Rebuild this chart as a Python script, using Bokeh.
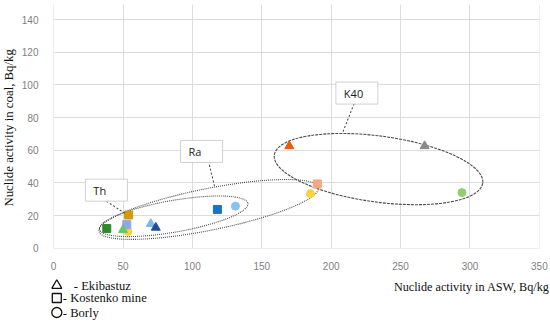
import math
from bokeh.plotting import figure
from bokeh.layouts import column, row
from bokeh.models import Range1d, SingleIntervalTicker
from bokeh.core.properties import value
from bokeh.embed import file_html
from bokeh.resources import INLINE

# ---- data ----
# Ekibastuz (triangles)
eki_x = [50.0, 70.0, 73.6, 169.8, 267.3]
eki_y = [11.3, 15.0, 12.7, 62.6, 62.6]
eki_c = ["#6cc46a", "#7db7e8", "#1d4f9e", "#ec5a0c", "#8a8a8a"]
# Kostenko mine (squares)
kos_x = [38.3, 52.7, 54.0, 118.0, 190.0]
kos_y = [12.1, 14.5, 20.4, 23.8, 39.4]
kos_c = ["#2f8a2a", "#8ea8e2", "#d69a08", "#1a72c2", "#f6a780"]
# Borly (circles)
bor_x = [53.5, 131.0, 185.0, 294.2]
bor_y = [10.3, 25.8, 33.5, 34.1]
bor_c = ["#ffd43a", "#86c3ee", "#ffd43a", "#8fd06f"]

# grouping ellipses
ell_name = ["Th", "Ra", "K40"]
ell_cx = [86.5, 111.7, 234.1]
ell_cy = [19.6, 23.8, 48.5]
ell_w = [108.6, 161.1, 151.5]
ell_h = [19.4, 25.5, 40.4]
ell_angle_deg = [9.9, 11.3, -7.7]
ell_dash = ["1 1", "1 1", "3 1"]

# callout boxes and leaders
box_x = [38.0, 106.6, 218.5]
box_y = [35.6, 59.3, 95.0]
lead_x0 = [38.1, 112.2, 216.5]
lead_y0 = [28.8, 51.1, 88.5]
lead_x1 = [52.5, 116.2, 208.0]
lead_y1 = [20.8, 37.0, 70.3]

x_title = "Nuclide activity in ASW, Bq/kg"
y_title = "Nuclide activity in coal, Bq/kg"
legend_txt = ["- Ekibastuz", "- Kostenko mine", "- Borly"]
legend_marker = ["triangle", "square", "circle"]

TOTAL_W, TOTAL_H = 550, 322
YT_W = 18          # strip for the vertical axis title
CH_H = 272         # chart height
LG_H = TOTAL_H - CH_H

# ---- chart ----
p = figure(width=TOTAL_W - YT_W, height=CH_H, output_backend="svg",
           toolbar_location=None,
           x_range=Range1d(-0.1, 350.1), y_range=Range1d(-0.1, 149.2),
           min_border_left=52 - YT_W, min_border_right=11, min_border_top=4,
           min_border_bottom=23)
p.outline_line_color = None
p.xaxis.ticker = SingleIntervalTicker(interval=50)
p.yaxis.ticker = SingleIntervalTicker(interval=20)
for ax in (p.xaxis, p.yaxis):
    ax.axis_line_color = None
    ax.major_tick_line_color = None
    ax.minor_tick_line_color = None
    ax.major_label_text_font = "Liberation Sans"
    ax.major_label_text_font_size = "10px"
    ax.major_label_text_color = "#7f7f7f"
p.xaxis.major_label_standoff = 7
p.yaxis.major_label_standoff = 9
p.xgrid.grid_line_color = "#dcdcdc"
p.ygrid.grid_line_color = "#dcdcdc"

for i in range(len(ell_name)):
    p.ellipse(x=[ell_cx[i]], y=[ell_cy[i]], width=[ell_w[i]], height=[ell_h[i]],
              angle=[math.radians(ell_angle_deg[i])], fill_color=None,
              line_color="#4d4d4d", line_width=1.1, line_dash=ell_dash[i])

p.scatter(bor_x, bor_y, marker="circle", size=8, fill_color=bor_c, line_color=bor_c)
p.scatter(kos_x, kos_y, marker="square", size=8, fill_color=kos_c, line_color=kos_c)
p.scatter(eki_x, eki_y, marker="triangle", size=9, fill_color=eki_c, line_color=eki_c)

p.segment(x0=lead_x0, y0=lead_y0, x1=lead_x1, y1=lead_y1, line_color="#4d4d4d",
          line_width=1.1, line_dash="2 2")
p.rect(x=box_x, y=box_y, width=42, height=22, width_units="screen",
       height_units="screen", fill_color="white", line_color="#d0d0d0")
p.text(x=box_x, y=box_y, text=ell_name, x_offset=-13, text_align="left",
       text_baseline="middle", text_font=value("Open Sans"),
       text_font_size="11px", text_color="#222222")


def blank(w, h):
    f = figure(width=w, height=h, output_backend="svg", toolbar_location=None,
               x_range=Range1d(0, w), y_range=Range1d(0, h),
               x_axis_type=None, y_axis_type=None, min_border=0)
    f.outline_line_color = None
    f.grid.visible = False
    return f


# ---- vertical axis title strip ----
yt = blank(YT_W, CH_H)
yt.text(x=[8.5], y=[CH_H - 137.5], text=[y_title], angle=math.pi / 2,
        text_align="center", text_baseline="middle",
        text_font=value("Liberation Serif"), text_font_size="12.8px",
        text_color="#111111")

# ---- bottom strip: x title and shape legend ----
lg = blank(TOTAL_W, LG_H)
lg.text(x=[549], y=[TOTAL_H - 286], text=[x_title], text_align="right",
        text_baseline="middle", text_font=value("Liberation Serif"),
        text_font_size="12.2px", text_color="#111111")
mk_y = [TOTAL_H - 285, TOTAL_H - 297.5, TOTAL_H - 312]
mk_size = [10, 9, 10]
for i in range(3):
    lg.scatter([56.3], [mk_y[i]], marker=legend_marker[i], size=mk_size[i],
               fill_color=None, line_color="#111111", line_width=1.3)
lg.text(x=[73.3, 62.3, 62.3], y=[TOTAL_H - 285.3, TOTAL_H - 297.7, TOTAL_H - 312.7],
        text=legend_txt, text_align="left", text_baseline="middle",
        text_font=value("Liberation Serif"), text_font_size="12.6px",
        text_color="#111111")

layout = column(row(yt, p, spacing=0), lg, spacing=0)
open("out.html", "w").write(file_html(layout, INLINE))
